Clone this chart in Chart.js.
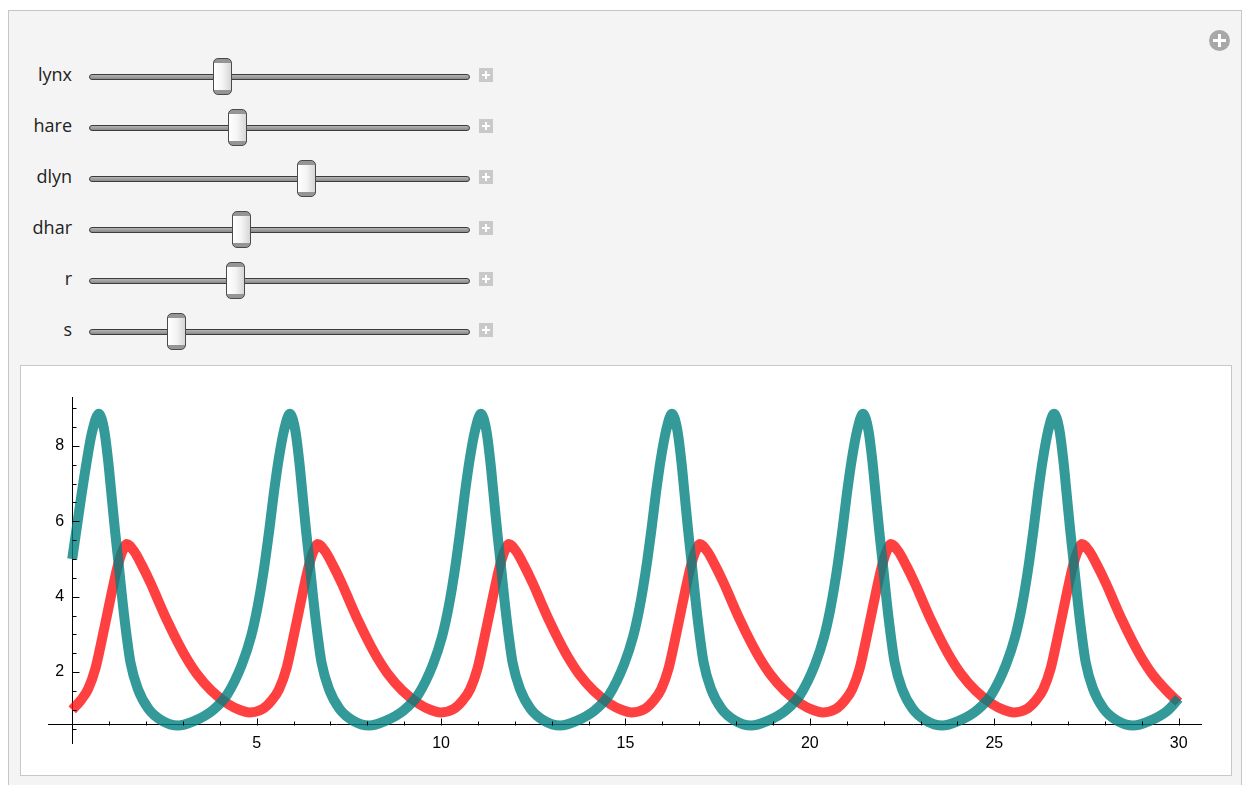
<!DOCTYPE html>
<html>
<head>
<meta charset="utf-8">
<script src="https://cdn.jsdelivr.net/npm/chart.js@4/dist/chart.umd.min.js"></script>
<style>
    body { margin: 0; background: #fff; font-family: "Open Sans", "Noto Sans", sans-serif; }
    .panel {
        position: absolute; left: 8px; top: 10px; width: 1234px; height: 800px;
        box-sizing: border-box; background: #f4f4f4; border: 1px solid #c6c6c6;
    }
    .label {
        position: absolute; left: 0; width: 72px; text-align: right;
        font-size: 18px; line-height: 24px; color: #222;
    }
    .track {
        position: absolute; left: 89px; width: 381px; height: 6px; box-sizing: border-box;
        background: linear-gradient(#b4b4b4, #8a8a8a); border: 1px solid #3c3c3c; border-radius: 3px;
    }
    .thumb {
        position: absolute; width: 19px; height: 37px; box-sizing: border-box;
        border: 1px solid #4a4a4a; border-radius: 5px;
        background-image:
            linear-gradient(to bottom, #959595 0, #959595 4px, transparent 4px, transparent 31px, #959595 31px),
            linear-gradient(to right, #ffffff, #f4f4f4 50%, #d6d6d6);
    }
    .plus {
        position: absolute; left: 479px; width: 14px; height: 14px; background: #c9c9c9;
    }
    .plus::before, .plus::after { content: ""; position: absolute; background: #fff; }
    .plus::before { left: 3px; top: 6px; width: 8px; height: 2px; }
    .plus::after { left: 6px; top: 3px; width: 2px; height: 8px; }
    .addbtn {
        position: absolute; left: 1209px; top: 30px; width: 21px; height: 21px;
        border-radius: 50%; background: #a8a8a8;
    }
    .addbtn::before, .addbtn::after { content: ""; position: absolute; background: #fff; }
    .addbtn::before { left: 4px; top: 9px; width: 13px; height: 3px; }
    .addbtn::after { left: 9px; top: 4px; width: 3px; height: 13px; }
    .plot {
        position: absolute; left: 20px; top: 365px; width: 1212px; height: 411px;
        box-sizing: border-box; background: #fff; border: 1px solid #c8c8c8;
    }
    #lvChart { position: absolute; left: 0; top: 0; }
</style>
</head>
<body>
<div class="panel"></div>
<div class="addbtn"></div>
<div id="controls"></div>
<div class="plot"><canvas id="lvChart" width="1210" height="409"></canvas></div>

<script>
// slider names and where each knob sits (0..1 along the track)
const sliderNames = ['lynx', 'hare', 'dlyn', 'dhar', 'r', 's'];
const sliderPos = [0.35, 0.39, 0.57, 0.40, 0.385, 0.23];

// hare (teal) and lynx (red) populations
const hareTime = [0, 0.23, 0.37, 0.53, 0.72,
    0.87, 0.98, 1.06, 1.16, 1.26, 1.35, 1.45, 1.58, 1.78, 2.07, 2.42, 2.87,
    3.30, 3.80, 4.20, 4.60, 4.85, 5.00, 5.12, 5.23, 5.34, 5.46, 5.59, 5.74, 5.90,
    6.05, 6.16, 6.24, 6.34, 6.44, 6.53, 6.63, 6.76, 6.96, 7.25, 7.60, 8.05,
    8.48, 8.98, 9.38, 9.78, 10.03, 10.18, 10.30, 10.41, 10.52, 10.64, 10.77, 10.92, 11.08,
    11.23, 11.34, 11.42, 11.52, 11.62, 11.71, 11.81, 11.94, 12.14, 12.43, 12.78, 13.23,
    13.66, 14.16, 14.56, 14.96, 15.21, 15.36, 15.48, 15.59, 15.70, 15.82, 15.95, 16.10, 16.26,
    16.41, 16.52, 16.60, 16.70, 16.80, 16.89, 16.99, 17.12, 17.32, 17.61, 17.96, 18.41,
    18.84, 19.34, 19.74, 20.14, 20.39, 20.54, 20.66, 20.77, 20.88, 21.00, 21.13, 21.28, 21.44,
    21.59, 21.70, 21.78, 21.88, 21.98, 22.07, 22.17, 22.30, 22.50, 22.79, 23.14, 23.59,
    24.02, 24.52, 24.92, 25.32, 25.57, 25.72, 25.84, 25.95, 26.06, 26.18, 26.31, 26.46, 26.62,
    26.77, 26.88, 26.96, 27.06, 27.16, 27.25, 27.35, 27.48, 27.68, 27.97, 28.32, 28.77,
    29.20, 29.70, 30];
const hareValues = [5.0, 6.56, 7.45, 8.33, 8.85,
    8.40, 7.55, 6.75, 5.75, 4.85, 4.00, 3.15, 2.25, 1.55, 1.02, 0.72, 0.58,
    0.70, 0.98, 1.40, 2.20, 2.95, 3.60, 4.25, 4.95, 5.75, 6.70, 7.60, 8.40, 8.85,
    8.40, 7.55, 6.75, 5.75, 4.85, 4.00, 3.15, 2.25, 1.55, 1.02, 0.72, 0.58,
    0.70, 0.98, 1.40, 2.20, 2.95, 3.60, 4.25, 4.95, 5.75, 6.70, 7.60, 8.40, 8.85,
    8.40, 7.55, 6.75, 5.75, 4.85, 4.00, 3.15, 2.25, 1.55, 1.02, 0.72, 0.58,
    0.70, 0.98, 1.40, 2.20, 2.95, 3.60, 4.25, 4.95, 5.75, 6.70, 7.60, 8.40, 8.85,
    8.40, 7.55, 6.75, 5.75, 4.85, 4.00, 3.15, 2.25, 1.55, 1.02, 0.72, 0.58,
    0.70, 0.98, 1.40, 2.20, 2.95, 3.60, 4.25, 4.95, 5.75, 6.70, 7.60, 8.40, 8.85,
    8.40, 7.55, 6.75, 5.75, 4.85, 4.00, 3.15, 2.25, 1.55, 1.02, 0.72, 0.58,
    0.70, 0.98, 1.40, 2.20, 2.95, 3.60, 4.25, 4.95, 5.75, 6.70, 7.60, 8.40, 8.85,
    8.40, 7.55, 6.75, 5.75, 4.85, 4.00, 3.15, 2.25, 1.55, 1.02, 0.72, 0.58,
    0.70, 0.98, 1.30];

const lynxTime = [0, 0.23, 0.43, 0.63, 0.78, 0.93, 1.08, 1.23, 1.36, 1.48,
    1.68, 1.88, 2.13, 2.33, 2.58, 2.83, 3.08, 3.38, 3.78, 4.23, 4.53, 4.81,
    5.16, 5.41, 5.61, 5.81, 5.96, 6.11, 6.26, 6.41, 6.54, 6.66,
    6.86, 7.06, 7.31, 7.51, 7.76, 8.01, 8.26, 8.56, 8.96, 9.41, 9.71, 9.99,
    10.34, 10.59, 10.79, 10.99, 11.14, 11.29, 11.44, 11.59, 11.72, 11.84,
    12.04, 12.24, 12.49, 12.69, 12.94, 13.19, 13.44, 13.74, 14.14, 14.59, 14.89, 15.17,
    15.52, 15.77, 15.97, 16.17, 16.32, 16.47, 16.62, 16.77, 16.90, 17.02,
    17.22, 17.42, 17.67, 17.87, 18.12, 18.37, 18.62, 18.92, 19.32, 19.77, 20.07, 20.35,
    20.70, 20.95, 21.15, 21.35, 21.50, 21.65, 21.80, 21.95, 22.08, 22.20,
    22.40, 22.60, 22.85, 23.05, 23.30, 23.55, 23.80, 24.10, 24.50, 24.95, 25.25, 25.53,
    25.88, 26.13, 26.33, 26.53, 26.68, 26.83, 26.98, 27.13, 27.26, 27.38,
    27.58, 27.78, 28.03, 28.23, 28.48, 28.73, 28.98, 29.28, 29.68, 30];
const lynxValues = [1.0, 1.25, 1.55, 2.10, 2.75, 3.45, 4.15, 4.80, 5.20, 5.40,
    5.20, 4.85, 4.35, 3.90, 3.35, 2.85, 2.40, 1.95, 1.50, 1.15, 1.00, 0.93,
    1.02, 1.25, 1.55, 2.10, 2.75, 3.45, 4.15, 4.80, 5.20, 5.40,
    5.20, 4.85, 4.35, 3.90, 3.35, 2.85, 2.40, 1.95, 1.50, 1.15, 1.00, 0.93,
    1.02, 1.25, 1.55, 2.10, 2.75, 3.45, 4.15, 4.80, 5.20, 5.40,
    5.20, 4.85, 4.35, 3.90, 3.35, 2.85, 2.40, 1.95, 1.50, 1.15, 1.00, 0.93,
    1.02, 1.25, 1.55, 2.10, 2.75, 3.45, 4.15, 4.80, 5.20, 5.40,
    5.20, 4.85, 4.35, 3.90, 3.35, 2.85, 2.40, 1.95, 1.50, 1.15, 1.00, 0.93,
    1.02, 1.25, 1.55, 2.10, 2.75, 3.45, 4.15, 4.80, 5.20, 5.40,
    5.20, 4.85, 4.35, 3.90, 3.35, 2.85, 2.40, 1.95, 1.50, 1.15, 1.00, 0.93,
    1.02, 1.25, 1.55, 2.10, 2.75, 3.45, 4.15, 4.80, 5.20, 5.40,
    5.20, 4.85, 4.35, 3.90, 3.35, 2.85, 2.40, 1.95, 1.50, 1.20];

// axis ticks
const xLabels = [5, 10, 15, 20, 25, 30];
const xMinor = [1, 2, 3, 4, 6, 7, 8, 9, 11, 12, 13, 14, 16, 17, 18, 19, 21, 22, 23, 24, 26, 27, 28, 29];
const yLabels = [2, 4, 6, 8];
const yMinor = [0.5, 1, 1.5, 2.5, 3, 3.5, 4.5, 5, 5.5, 6.5, 7, 7.5, 8.5, 9];
const xAxisAt = 0.6;

// build the slider rows
const controls = document.getElementById('controls');
sliderNames.forEach((name, i) => {
    const cy = 76.8 + i * 51;
    const trackLeft = 89, trackWidth = 381;
    controls.insertAdjacentHTML('beforeend',
        `<div class="label" style="top:${cy - 14.5}px">${name}</div>` +
        `<div class="track" style="top:${cy - 3}px"></div>` +
        `<div class="thumb" style="top:${cy - 18.5}px;left:${trackLeft + sliderPos[i] * trackWidth - 9.5}px"></div>` +
        `<div class="plus" style="top:${cy - 9}px"></div>`);
});

// Mathematica-style inward tick marks, drawn over the curves like the axes
const tickMarks = {
    id: 'tickMarks',
    afterDatasetsDraw(chart) {
        const {ctx, scales: {x, y}} = chart;
        const ax = Math.round(x.getPixelForValue(0)) + 0.5;
        const ay = Math.round(y.getPixelForValue(xAxisAt)) + 0.5;
        ctx.save();
        ctx.strokeStyle = '#000';
        ctx.lineWidth = 1;
        ctx.beginPath();
        xLabels.concat(xMinor).forEach(v => {
            const px = Math.round(x.getPixelForValue(v)) + 0.5;
            const len = xLabels.includes(v) ? 7 : 4;
            ctx.moveTo(px, ay);
            ctx.lineTo(px, ay - len);
        });
        yLabels.concat(yMinor).forEach(v => {
            const py = Math.round(y.getPixelForValue(v)) + 0.5;
            const len = yLabels.includes(v) ? 7 : 4;
            ctx.moveTo(ax, py);
            ctx.lineTo(ax + len, py);
        });
        ctx.stroke();
        ctx.restore();
    }
};

Chart.defaults.font.family = '"Liberation Sans", Arial, sans-serif';

const ctx = document.getElementById('lvChart').getContext('2d');
new Chart(ctx, {
    type: 'line',
    data: {
        datasets: [{
            label: 'hare',
            data: hareTime.map((t, i) => ({x: t, y: hareValues[i]})),
            borderColor: 'rgba(0, 128, 128, 0.8)',
            borderWidth: 10,
            pointRadius: 0,
            cubicInterpolationMode: 'monotone',
            fill: false
        }, {
            label: 'lynx',
            data: lynxTime.map((t, i) => ({x: t, y: lynxValues[i]})),
            borderColor: 'rgba(255, 0, 0, 0.75)',
            borderWidth: 10,
            pointRadius: 0,
            cubicInterpolationMode: 'monotone',
            fill: false
        }]
    },
    options: {
        responsive: false,
        animation: false,
        devicePixelRatio: 1,
        layout: {
            padding: {left: 27, right: 30, top: 31, bottom: 32}
        },
        plugins: {
            legend: {display: false},
            tooltip: {enabled: false}
        },
        scales: {
            x: {
                type: 'linear',
                min: -0.657,
                max: 30.605,
                position: {y: xAxisAt},
                z: 1,
                grid: {display: false},
                border: {display: true, color: '#000', width: 1},
                afterBuildTicks: scale => { scale.ticks = xLabels.map(v => ({value: v})); },
                ticks: {
                    color: '#000',
                    font: {size: 16},
                    padding: 1,
                    maxRotation: 0,
                    autoSkip: false
                }
            },
            y: {
                type: 'linear',
                min: 0.119,
                max: 9.297,
                position: {x: 0},
                z: 1,
                grid: {display: false},
                border: {display: true, color: '#000', width: 1},
                afterBuildTicks: scale => { scale.ticks = yLabels.map(v => ({value: v})); },
                ticks: {
                    color: '#000',
                    font: {size: 16},
                    // labels sit right against the axis, so leave an en space
                    callback: v => v + '\u2002'
                }
            }
        }
    },
    plugins: [tickMarks]
});
</script>
</body>
</html>
